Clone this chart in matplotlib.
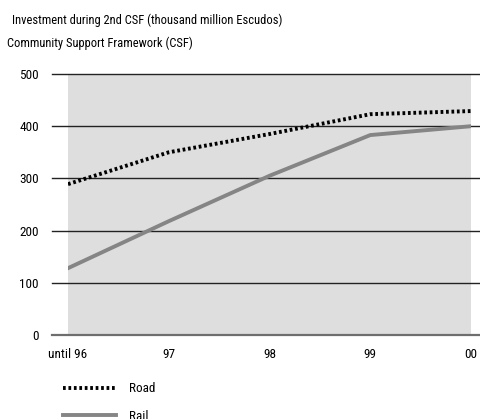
import matplotlib
matplotlib.use("Agg")
import matplotlib.pyplot as plt
from matplotlib.lines import Line2D

categories = ["until 96", "97", "98", "99", "00"]
road = [289, 350, 385, 423, 429]
rail = [128, 218, 305, 383, 400]
yticks = [0, 100, 200, 300, 400, 500]

fam = ["Liberation Sans Narrow", "Roboto Condensed", "DejaVu Sans"]
plt.rcParams["font.family"] = fam

fig = plt.figure(figsize=(4.81, 4.19), dpi=100)
ax = fig.add_axes([68/481, 84/419, 403/481, 261/419])
ax.set_facecolor("#dedede")
x = list(range(len(categories)))
ax.set_xlim(0, len(categories) - 1)
ax.set_ylim(0, 500)

for yv in yticks:
    col = "#6e6e6e" if yv in (0,) else "#222222"
    lw = 1.6 if yv == 0 else 1.0
    ax.plot([-0.16, 4.25], [yv, yv], color=col, lw=lw, clip_on=False, zorder=1)

ax.plot(x, road, color="black", lw=2.8, linestyle=(0, (0.7, 0.7)), zorder=3, label="Road")
ax.plot(x, rail, color="#858585", lw=2.8, zorder=3, label="Rail")

for s in ax.spines.values():
    s.set_visible(False)
ax.set_xticks(x)
ax.set_xticklabels(categories, fontsize=9.5)
ax.set_yticks(yticks)
ax.set_yticklabels([str(v) for v in yticks], fontsize=9.5)
ax.tick_params(axis="x", length=0, pad=9)
ax.tick_params(axis="y", length=0, pad=21)

fig.text(12/481, 1 - 20/419, "Investment during 2nd CSF (thousand million Escudos)", fontsize=9, va="center")
fig.text(7/481, 1 - 43/419, "Community Support Framework (CSF)", fontsize=9, va="center")

handles = [Line2D([], [], color="black", lw=2.8, linestyle=(0, (0.7, 0.7))),
           Line2D([], [], color="#858585", lw=2.8)]
fig.legend(handles, ["Road", "Rail"], loc="upper left", bbox_to_anchor=(54/481, 1 - 373/419),
           frameon=False, fontsize=9.5, handlelength=4, handletextpad=1.0,
           labelspacing=1.1, borderpad=0.2)

fig.savefig("out.png", dpi=100)
